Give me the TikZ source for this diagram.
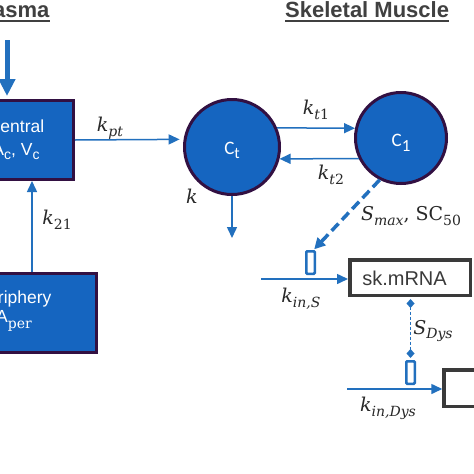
\documentclass[tikz,border=0pt]{standalone}
\usepackage[no-math]{fontspec}
\setmainfont{Liberation Sans}
\newfontfamily\carlito{Carlito}
\newfontfamily\labfont{DejaVu Serif}
\usetikzlibrary{arrows.meta,calc}
\definecolor{boxblue}{RGB}{21,101,192}
\definecolor{arrblue}{RGB}{34,112,190}
\definecolor{edgepurple}{RGB}{50,16,66}
\definecolor{titlegray}{RGB}{64,64,64}
\definecolor{labgray}{RGB}{40,40,40}
\definecolor{boxgray}{RGB}{58,58,58}
\newcommand\mysub[1]{\raisebox{-4.5pt}{\fontsize{14}{14}\selectfont #1}}
\newcommand\lsub[1]{\raisebox{-5pt}{\fontsize{14}{14}\selectfont #1}}
\newcommand\rate[2]{\textit{#1}\lsub{\textit{#2}}}
\begin{document}
\begin{tikzpicture}[x=1pt,y=-1pt,
 comp/.style={draw=edgepurple, fill=boxblue, line width=3pt, inner sep=0pt},
 pool/.style={circle, draw=edgepurple, fill=boxblue, line width=3pt, inner sep=0pt},
 flow/.style={draw=arrblue, line width=1.5pt, -{Triangle[length=11pt,width=10pt]}},
 bigflow/.style={draw=arrblue, line width=5pt, -{Triangle[length=17pt,width=16pt]}},
 effect/.style={draw=arrblue, line width=3.5pt, dash pattern=on 10pt off 5pt, -{Triangle[length=11pt,width=11pt]}},
 link/.style={draw=arrblue, line width=1.8pt, dash pattern=on 3pt off 2pt, {Diamond[length=9pt,width=8pt]}-{Diamond[length=9pt,width=8pt]}},
 valve/.style={draw=arrblue, line width=2.5pt, minimum width=8.5pt, minimum height=22.5pt, inner sep=0pt, rounded corners=1pt},
 rate/.style={font=\labfont\fontsize{19}{23}\selectfont, text=labgray, inner sep=0pt},
 boxtext/.style={font=\fontsize{17.5}{21}\selectfont, text=white, inner sep=0pt},
 pooltext/.style={font=\carlito\fontsize{19}{23}\selectfont, text=white, inner sep=0pt},
 ttl/.style={font=\bfseries\fontsize{22}{26}\selectfont, text=titlegray, inner sep=0pt},
 ul/.style={draw=titlegray, line width=2pt},
 gene/.style={draw=boxgray, fill=white, line width=3.5pt, inner sep=0pt},
 genetext/.style={font=\fontsize{20}{24}\selectfont, text=boxgray, inner sep=0pt}
]
\clip (0,0) rectangle (474,474);
\fill[white] (0,0) rectangle (474,474);

% titles
\node[ttl, anchor=base east] (tplasma) at (49.5,17) {Plasma};
\node[ttl, anchor=base west] (tmuscle) at (285,17) {Skeletal Muscle};
\draw[ul] ($(tplasma.base west)+(0,3.5)$) -- ($(tplasma.base east)+(0,3.5)$);
\draw[ul] ($(tmuscle.base west)+(0,3.5)$) -- ($(tmuscle.base east)+(0,3.5)$);

% compartments
\node[comp, minimum width=115pt, minimum height=79pt] (cen) at (16,140) {};
\node[boxtext, anchor=base] (cenA) at (16,132) {Central};
\node[boxtext, anchor=base] (cenB) at (16,155) {A\mysub{c}, V\mysub{c}};

\node[comp, minimum width=165pt, minimum height=79pt] (per) at (14,313) {};
\node[boxtext, anchor=base] (perA) at (14,303) {Periphery};
\node[boxtext, anchor=base] (perB) at (14,322) {A\raisebox{-6pt}{\labfont\fontsize{14}{14}\selectfont per}};

\node[pool, minimum size=95pt] (Ct) at (232,147) {};
\node[pooltext] (Ctt) at (232,150) {C\raisebox{-4pt}{\fontsize{16}{16}\selectfont t}};
\node[pool, minimum size=91pt] (C1) at (401,138) {};
\node[pooltext] (C1t) at (401,143) {C\raisebox{-5pt}{\fontsize{17}{17}\selectfont 1}};

% gene boxes
\node[gene, minimum width=120.5pt, minimum height=35.5pt] (sk) at (410,277.5) {};
\node[genetext] (skt) at (404.5,278) {sk.mRNA};
\node[gene, minimum width=70pt, minimum height=36.5pt] (dys) at (479,388) {};

% valves
\node[valve] (v1) at (310.5,262.5) {};
\node[valve] (v2) at (410.5,372.5) {};

% coordinates
\coordinate (src) at (7,40);
\coordinate (kx) at (32,0);
\coordinate (sink) at (232,238);
\coordinate (inS) at (261,279);
\coordinate (inD) at (347,389);

% connectors
\draw[bigflow, shorten >=3pt] (src) -- (src |- cen.north);
\draw[flow] (per.north -| kx) -- (cen.south -| kx);
\draw[flow, shorten >=4pt] (cen.east) -- (Ct.171);
\draw[flow] (Ct.23) -- (C1.168);
\draw[flow] (C1.206) -- (Ct.346);
\draw[flow] (Ct.south) -- (sink);
\draw[effect, shorten >=1pt] (C1.-117) -- ($(v1.north)+(3,0)$);
\draw[flow] (inS) -- (inS -| sk.west);
\draw[link, shorten <=2pt, shorten >=2pt] (sk.south -| v2) -- (v2.north);
\draw[flow] (inD) -- (inD -| dys.west);

% rate labels
\node[rate] (lpt) at (110,128) {\rate{k}{pt}};
\node[rate] (l21) at (57,220) {\textit{k}\lsub{21}};
\node[rate] (lk) at (192,196) {\textit{k}};
\node[rate] (lt1) at (316,110) {\textit{k}\lsub{\textit{t}1}};
\node[rate] (lt2) at (331,175) {\textit{k}\lsub{\textit{t}2}};
\node[rate] (lsm) at (411,216) {\rate{S}{max}, SC\lsub{50}};
\node[rate] (lins) at (301,299) {\rate{k}{in,S}};
\node[rate] (lsd) at (433,331) {\rate{S}{Dys}};
\node[rate] (lind) at (388,408) {\rate{k}{in,Dys}};
\end{tikzpicture}
\end{document}
